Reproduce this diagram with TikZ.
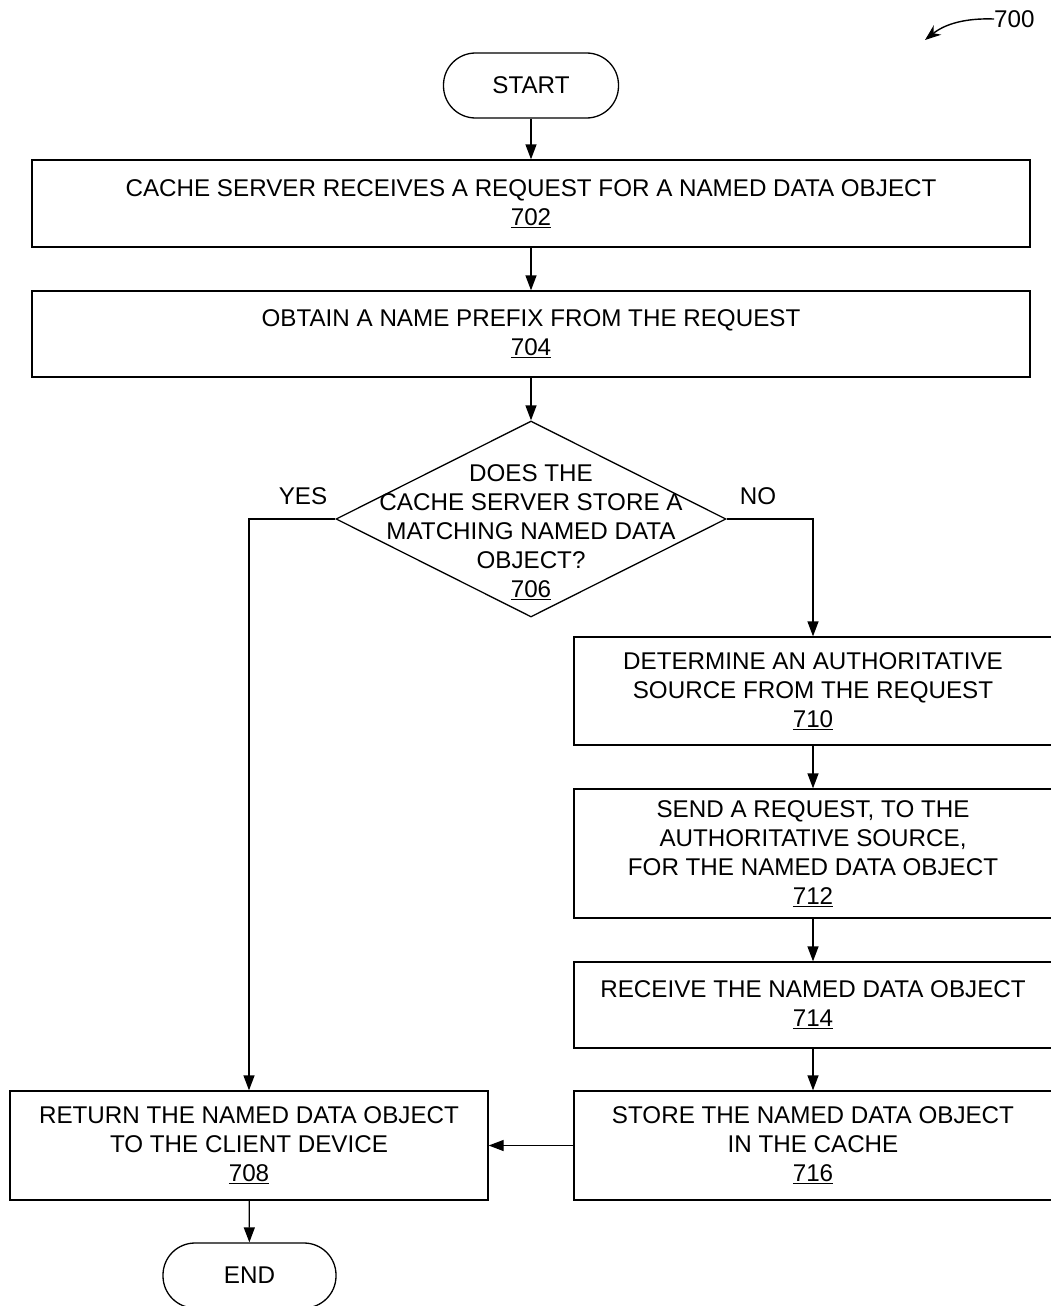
\documentclass[tikz,border=0pt]{standalone}
\usepackage{fontspec}
\setmainfont{Liberation Sans}
\usetikzlibrary{arrows.meta,shapes.geometric}
\begin{document}
\begin{tikzpicture}[x=1pt,y=-1pt,
  every node/.style={font=\fontsize{24.2}{29}\selectfont},
  box/.style={draw,line width=1.3pt,rectangle,inner sep=0pt,align=center},
  term/.style={draw,line width=1.3pt,rectangle,rounded corners=32pt,inner sep=0pt,minimum width=175pt,minimum height=65pt},
  decision/.style={draw,line width=1.3pt,diamond,inner sep=0pt,minimum width=390pt,minimum height=196pt},
  conn/.style={line width=1.3pt,-{Triangle[length=15pt,width=11pt]}},
  txt/.style={inner sep=0pt,align=center}]
\useasboundingbox (0,0) rectangle (1050,1306);
\node[term] (start) at (531,85.5) {START};
\node[box,minimum width=998pt,minimum height=87pt] (b702) at (531,203.5) {CACHE SERVER RECEIVES A REQUEST FOR A NAMED DATA OBJECT\\\underline{702}};
\node[box,minimum width=998pt,minimum height=86pt] (b704) at (531,334) {OBTAIN A NAME PREFIX FROM THE REQUEST\\\underline{704}};
\node[decision] (d706) at (531,519) {};
\node[txt] (t706) at (531,532) {DOES THE\\CACHE SERVER STORE A\\MATCHING NAMED DATA\\OBJECT?\\\underline{706}};
\node[box,minimum width=478pt,minimum height=108pt] (b710) at (813,691) {DETERMINE AN AUTHORITATIVE\\SOURCE FROM THE REQUEST\\\underline{710}};
\node[box,minimum width=478pt,minimum height=129pt] (b712) at (813,853.5) {SEND A REQUEST, TO THE\\AUTHORITATIVE SOURCE,\\FOR THE NAMED DATA OBJECT\\\underline{712}};
\node[box,minimum width=478pt,minimum height=86pt] (b714) at (813,1005) {RECEIVE THE NAMED DATA OBJECT\\\underline{714}};
\node[box,minimum width=478pt,minimum height=109pt] (b716) at (813,1145.5) {STORE THE NAMED DATA OBJECT\\IN THE CACHE\\\underline{716}};
\node[box,minimum width=478pt,minimum height=109pt] (b708) at (249,1145.5) {RETURN THE NAMED DATA OBJECT\\TO THE CLIENT DEVICE\\\underline{708}};
\node[term,minimum width=173pt] (endn) at (249.5,1275.5) {END};
\node[txt] (yes) at (303,496) {YES};
\node[txt] (no) at (758,496) {NO};
\node[txt,anchor=west] (l700) at (994,19) {700};
\coordinate (a700) at (925,40);
\draw[conn] (start) -- (b702);
\draw[conn] (b702) -- (b704);
\draw[conn] (b704) -- (d706);
\draw[conn] (d706.west) -| (b708.north);
\draw[conn] (d706.east) -| (b710.north);
\draw[conn] (b710) -- (b712);
\draw[conn] (b712) -- (b714);
\draw[conn] (b714) -- (b716);
\draw[conn] (b716) -- (b708);
\draw[conn] (b708) -- (endn);
\draw[line width=1.4pt,-{Stealth[length=16pt,width=12pt]}] (l700.west) .. controls (965,18) and (945,24) .. (a700);
\end{tikzpicture}
\end{document}
